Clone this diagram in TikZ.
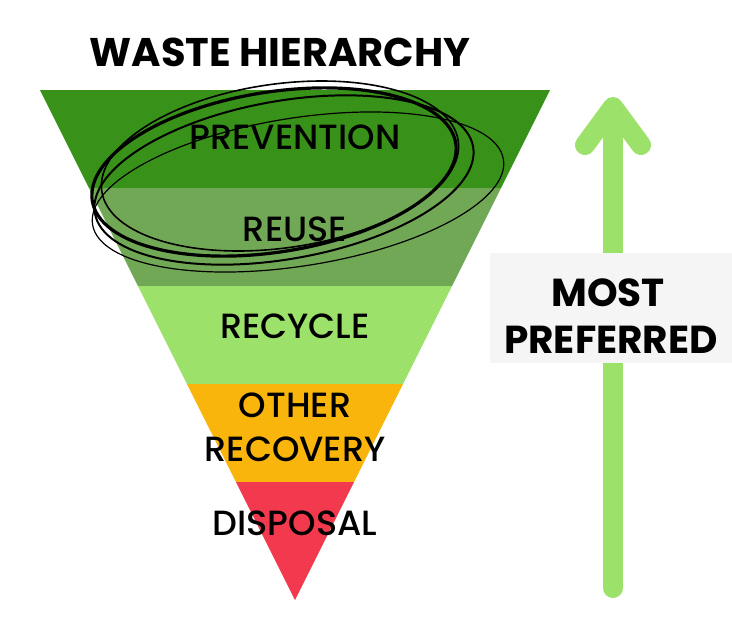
\documentclass[tikz,border=0pt]{standalone}
\usepackage{fontspec}
\setmainfont{Poppins}
\newfontfamily\medfont{Poppins Medium}
\usepackage{xcolor}
\definecolor{PrevGreen}{RGB}{56,146,26}
\definecolor{ReuseGreen}{RGB}{113,168,86}
\definecolor{RecyGreen}{RGB}{156,226,106}
\definecolor{RecovOrange}{RGB}{250,181,12}
\definecolor{DispRed}{RGB}{242,57,77}
\definecolor{BoxGray}{RGB}{245,245,245}
\usepackage{tikz}
\usetikzlibrary{positioning}

\tikzset{
  band/.style={font=\medfont\fontsize{35}{38}\selectfont, text=black, align=center, inner sep=0pt},
  scribble/.style={draw=black, line cap=round},
}

\begin{document}
\begin{tikzpicture}[x=1pt, y=-1pt]
			\useasboundingbox (0,0) rectangle (732,627);
			% Titel / Title
			\node[font=\fontsize{40}{44}\selectfont\bfseries] (title) at (280,52) {WASTE HIERARCHY};
			% Trichter / Funnel bands
			\begin{scope}
				\clip (40,90) -- (550,90) -- (295,600) -- cycle;
				\fill[PrevGreen] (30,90) rectangle (560,188);
				\fill[ReuseGreen] (30,188) rectangle (560,286);
				\fill[RecyGreen] (30,286) rectangle (560,384);
				\fill[RecovOrange] (30,384) rectangle (560,482);
				\fill[DispRed] (30,482) rectangle (560,605);
			\end{scope}
			% Beschriftung / Labels
			\node[band] (prevention) at (295,137) {PREVENTION};
			\node[band] (reuse) at (295,229) {REUSE};
			\node[band] (recycle) at (295,326) {RECYCLE};
			\node[band] (other) at (295,405) {OTHER};
			\node[band] (recovery) at (295,449) {RECOVERY};
			\node[band] (disposal) at (295,523) {DISPOSAL};
			% Kritzelkreis / Scribble
			\draw[scribble, line width=3.2pt] (274,172) ellipse [x radius=184, y radius=80, rotate=9];
			\draw[scribble, line width=1.6pt] (280,166) ellipse [x radius=180, y radius=82, rotate=8];
			\draw[scribble, line width=1.2pt] (298,192) ellipse [x radius=208, y radius=74, rotate=9];
			\draw[scribble, line width=2pt] (284,180) ellipse [x radius=192, y radius=79, rotate=10];
			% Pfeil / Arrow
			\draw[RecyGreen, line width=20pt, line cap=round] (613,588) -- (613,110);
			\draw[RecyGreen, line width=20pt, line cap=round, line join=round] (585,145) -- (613,107) -- (641,145);
			% Kasten / Box
			\fill[BoxGray] (490,253) rectangle (732,363);
			\node[font=\fontsize{39}{42}\selectfont\bfseries] (most) at (608,293) {MOST};
			\node[font=\fontsize{39}{42}\selectfont\bfseries] (preferred) at (611,340) {PREFERRED};
\end{tikzpicture}
\end{document}
